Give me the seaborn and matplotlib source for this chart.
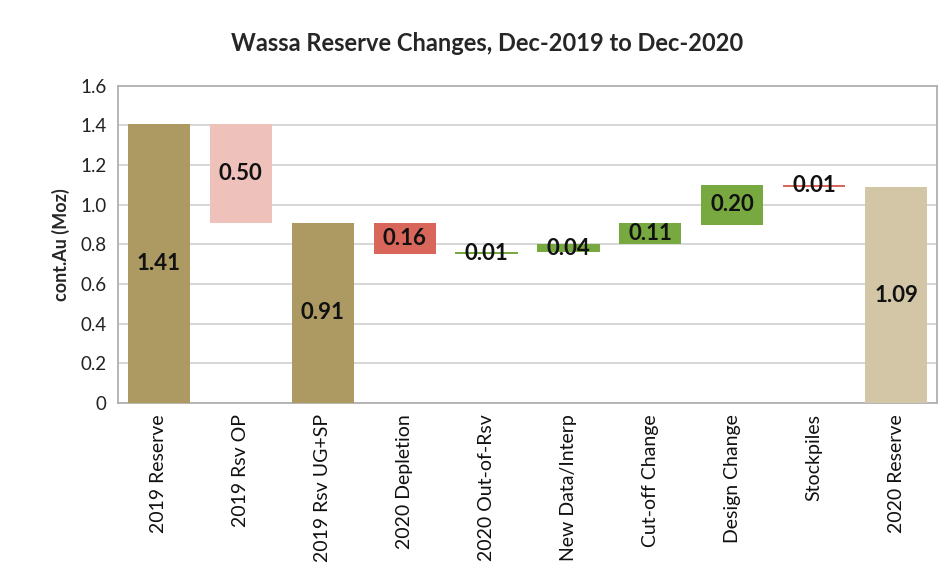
import matplotlib
matplotlib.use("Agg")
import matplotlib.pyplot as plt
import seaborn as sns
import pandas as pd

categories = ["2019 Reserve", "2019 Rsv OP", "2019 Rsv UG+SP", "2020 Depletion",
              "2020 Out-of-Rsv", "New Data/Interp", "Cut-off Change",
              "Design Change", "Stockpiles", "2020 Reserve"]
values = [1.41, 0.50, 0.91, 0.16, 0.01, 0.04, 0.11, 0.20, 0.01, 1.09]
bottoms = [0.0, 0.91, 0.0, 0.75, 0.75, 0.76, 0.80, 0.90, 1.09, 0.0]
labels = ["1.41", "0.50", "0.91", "0.16", "0.01", "0.04", "0.11", "0.20", "0.01", "1.09"]
yticks = [0, 0.2, 0.4, 0.6, 0.8, 1.0, 1.2, 1.4, 1.6]
ytick_labels = ["0", "0.2", "0.4", "0.6", "0.8", "1.0", "1.2", "1.4", "1.6"]

bar_colors = ["#ac9a62", "#efc1bb", "#ac9a62", "#d9665a", "#78a940",
              "#78a940", "#78a940", "#78a940", "#d9665a", "#d3c6a6"]

sns.set_theme(style="white")
plt.rcParams["font.family"] = ["Lato", "DejaVu Sans"]

df = pd.DataFrame({"cat": categories, "val": values, "bottom": bottoms})

fig = plt.figure(figsize=(9.53, 5.8), dpi=100)
ax = fig.add_axes([0.1238, 0.305, 0.8594, 0.547])

sns.barplot(data=df, x="cat", y="val", order=categories, bottom=df["bottom"].values,
            color="#ac9a62", saturation=1, width=0.76, errorbar=None, ax=ax, zorder=3)
for p, c in zip(ax.patches, bar_colors):
    p.set_facecolor(c)
    p.set_edgecolor("none")

for i, (v, b, t) in enumerate(zip(values, bottoms, labels)):
    ax.text(i, b + v / 2, t, ha="center", va="center", fontsize=16,
            fontweight="bold", color="#111111", zorder=4)

ax.set_ylim(0, 1.6)
ax.set_xlim(-0.5, len(categories) - 0.5)
ax.set_yticks(yticks)
ax.set_yticklabels(ytick_labels, fontsize=13.5, color="#222222")
ax.set_xticks(range(len(categories)))
ax.set_xticklabels(categories, rotation=90, fontsize=14, color="#111111")
ax.tick_params(axis="both", length=0, pad=8)
ax.yaxis.grid(True, color="#d0d0d0", linewidth=1.2, zorder=0)
ax.set_axisbelow(True)
for s in ax.spines.values():
    s.set_visible(True)
    s.set_color("#b0b0b0")
    s.set_linewidth(1.3)

ax.set_xlabel("")
ax.set_ylabel("cont.Au (Moz)", fontsize=13, fontweight="bold", labelpad=8)
fig.suptitle("Wassa Reserve Changes, Dec-2019 to Dec-2020", x=0.511, y=0.945,
             fontsize=17, fontweight="bold")

fig.savefig("out.png", dpi=100)
